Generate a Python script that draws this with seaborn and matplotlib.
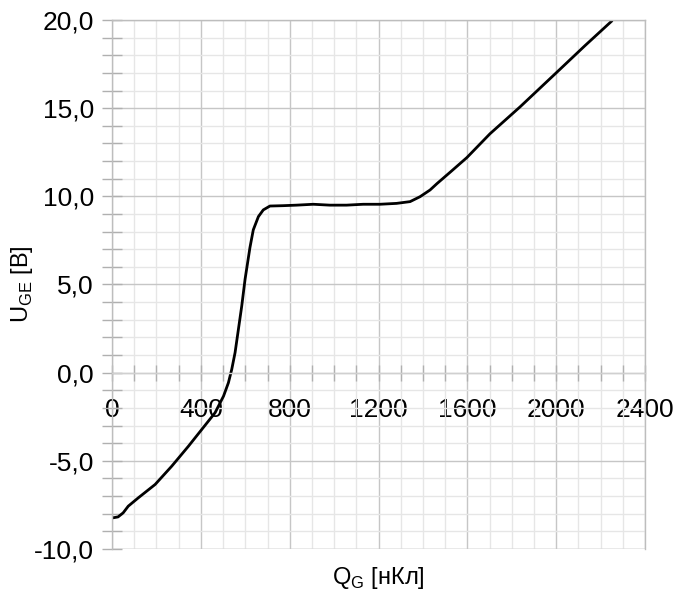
import matplotlib
matplotlib.use("Agg")
import matplotlib.pyplot as plt
from matplotlib.ticker import MultipleLocator, FuncFormatter
import seaborn as sns

# Gate charge curve
q = [0, 27, 50, 73, 118, 194, 269, 344, 404, 464, 502, 524, 539, 554, 569,
     584, 599, 621, 636, 659, 681, 711, 770, 831, 906, 981, 1056, 1131, 1206,
     1281, 1342, 1387, 1432, 1463, 1530, 1598, 1702, 1837, 2004, 2130, 2251]
u = [-8.24, -8.18, -7.95, -7.57, -7.1, -6.34, -5.3, -4.17, -3.22, -2.27,
     -1.33, -0.57, 0.19, 1.14, 2.46, 3.78, 5.3, 7.1, 8.1, 8.85, 9.23, 9.45,
     9.47, 9.5, 9.55, 9.5, 9.5, 9.55, 9.55, 9.6, 9.7, 9.98, 10.36, 10.72,
     11.45, 12.2, 13.55, 15.07, 17.05, 18.55, 19.95]

sns.set_style("white")
plt.rcParams["font.family"] = ["Liberation Sans", "DejaVu Sans"]
plt.rcParams["mathtext.fontset"] = "custom"
plt.rcParams["mathtext.rm"] = "Liberation Sans"
plt.rcParams["axes.unicode_minus"] = False
plt.rcParams["text.color"] = "black"
plt.rcParams["axes.labelcolor"] = "black"
plt.rcParams["xtick.labelcolor"] = "black"
plt.rcParams["ytick.labelcolor"] = "black"

fig = plt.figure(figsize=(6.75, 5.95), dpi=100)
ax = fig.add_axes([0.166, 0.0773, 0.7896, 0.8891])

sns.lineplot(x=q, y=u, color="black", lw=2.0, ax=ax)

ax.set_xlim(0, 2400)
ax.set_ylim(-10, 20)
ax.xaxis.set_major_locator(MultipleLocator(400))
ax.xaxis.set_minor_locator(MultipleLocator(100))
ax.yaxis.set_major_locator(MultipleLocator(5))
ax.yaxis.set_minor_locator(MultipleLocator(1))
ax.yaxis.set_major_formatter(FuncFormatter(lambda v, p: f"{v:.1f}".replace(".", ",")))

ax.grid(which="major", color="#c6c6c6", lw=1.0)
ax.grid(which="minor", color="#e6e6e6", lw=1.0)
ax.set_axisbelow(True)

ax.spines["bottom"].set_position(("data", 0))
for s in ax.spines.values():
    s.set_color("#bdbdbd")
    s.set_linewidth(1.0)
ax.spines["bottom"].set_color("#d0d0d0")

ax.tick_params(axis="both", which="both", direction="inout", color="#b0b0b0", width=1.0,
               labelcolor="black")
ax.tick_params(axis="y", which="both", length=14, pad=6, labelsize=19, left=True)
ax.tick_params(axis="x", which="both", length=12, pad=12, labelsize=19, bottom=True)
ax.tick_params(axis="y", which="minor", labelleft=False)

# bottom border of the box, since the x axis sits at zero
ax.axhline(-10, color="#bdbdbd", lw=1.0, zorder=0.5)

ax.set_ylabel(r"U$_{\mathregular{GE}}$ [В]", fontsize=17, color="black")
ax.set_xlabel(r"Q$_{\mathregular{G}}$ [нКл]", fontsize=17, color="black")
ax.yaxis.set_label_coords(-0.145, 0.5)
ax.xaxis.set_label_coords(0.5, -0.03)

fig.savefig("out.png", dpi=100)
